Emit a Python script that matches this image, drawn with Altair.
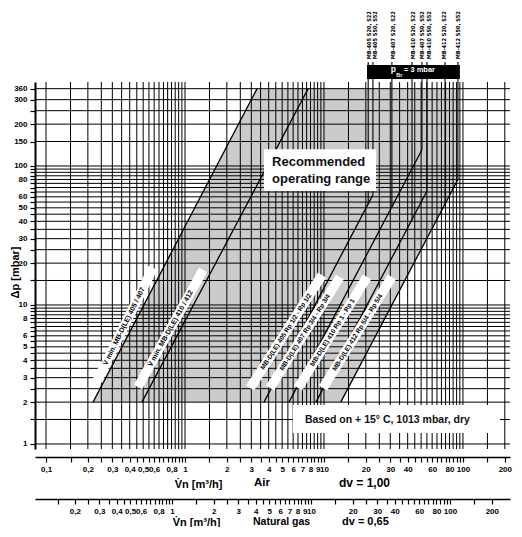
import json
import math
import altair as alt
import pandas as pd

# ---------------- scale extents ----------------
X_DOMAIN = [0.0833, 218.0]      # air flow m3/h
Y_DOMAIN = [0.92, 402.0]        # pressure drop mbar
DV_GAS = 0.65
W, H = 475, 367
FONT = "Liberation Sans"
NARROW = "Liberation Sans Narrow, DejaVu Sans Condensed, Liberation Sans"

# ---------------- grid / ticks ----------------
x_grid = [0.1, 0.15, 0.2, 0.25, 0.3, 0.35, 0.4, 0.45, 0.5, 0.55, 0.6, 0.65, 0.7, 0.75, 0.8, 0.85, 0.9, 0.95, 1,
          1.5, 2, 2.5, 3, 3.5, 4, 4.5, 5, 5.5, 6, 6.5, 7, 7.5, 8, 8.5, 9, 9.5, 10,
          15, 20, 25, 30, 35, 40, 45, 50, 55, 60, 65, 70, 75, 80, 85, 90, 95, 100, 150, 200]
y_grid = [1, 1.5, 2, 2.5, 3, 3.5, 4, 4.5, 5, 5.5, 6, 6.5, 7, 7.5, 8, 8.5, 9, 9.5, 10,
          15, 20, 25, 30, 35, 40, 45, 50, 55, 60, 65, 70, 75, 80, 85, 90, 95, 100,
          150, 200, 250, 300, 360]
air_labels = [0.1, 0.2, 0.3, 0.4, 0.5, 0.6, 0.8, 1, 2, 3, 4, 5, 6, 7, 8, 9, 10, 20, 30, 40, 60, 80, 100, 200]
gas_ticks = [0.15, 0.2, 0.25, 0.3, 0.35, 0.4, 0.45, 0.5, 0.55, 0.6, 0.65, 0.7, 0.75, 0.8, 0.85, 0.9, 0.95, 1,
             1.5, 2, 2.5, 3, 3.5, 4, 4.5, 5, 5.5, 6, 6.5, 7, 7.5, 8, 8.5, 9, 9.5, 10,
             15, 20, 25, 30, 35, 40, 45, 50, 55, 60, 65, 70, 75, 80, 85, 90, 95, 100, 150, 200]
gas_labels = [0.2, 0.3, 0.4, 0.5, 0.6, 0.8, 1, 2, 3, 4, 5, 6, 7, 8, 9, 10, 20, 30, 40, 60, 80, 100, 200]
y_labels = [1, 2, 3, 4, 5, 6, 8, 10, 20, 30, 40, 50, 60, 80, 100, 150, 200, 300, 360]

# ---------------- recommended operating range (gray) ----------------
gray_v = [0.218, 3.3, 13.2, 92]
gray_hi = [2, 360, 360, 360]
gray_lo = [2, 2, 2, 80]

# ---------------- characteristic lines ----------------
line_v1 = [0.218, 0.49, 3.7, 5.6, 8.75, 13.2]
line_p1 = [2, 2, 2, 2, 2, 2]
line_v2 = [3.3, 7.7, 22.5, 50.7, 55.1, 92]
line_p2 = [360, 360, 62, 131, 66, 80]

# ---------------- p_Br = 3 mbar limits (top) ----------------
s_names = ["MB-405 S20, S22", "MB-405 S50, S52", "MB-407 S20, S22", "MB-410 S20, S22",
           "MB-407 S50, S52", "MB-410 S50, S52", "MB-412 S20, S22", "MB-412 S50, S52"]
s_v = [20.8, 22.5, 30.8, 43, 50.7, 55.1, 74.3, 92]
s_text_v = [21.0, 23.4, 31.2, 43.4, 50.5, 57.3, 73.3, 92.5]
s_p_low = [53, 62, 51, 41, 131, 66, 53, 80]
s_p_top = 560
s_text_p = 585
bar_v = [20.4, 95]
bar_p = [422, 533]

# ---------------- label bands ----------------
band_text = ["V\u0307 min. MB-D(LE) 405 / 407", "V\u0307 min. MB-D(LE) 410 / 412",
             "MB-D(LE) 405 Rp 1/2 - Rp 1/2", "MB-D(LE) 407 Rp 3/4 - Rp 3/4",
             "MB-D(LE) 410 Rp 1 - Rp 1", "MB-D(LE) 412 Rp 5/4 - Rp 5/4"]
band_v1 = [0.225, 0.459, 2.94, 4.09, 6.5, 9.84]
band_p1 = [2.66, 2.57, 2.53, 2.53, 2.53, 2.53]
band_v2 = [0.589, 1.35, 9.67, 13.0, 20.4, 30.8]
band_p2 = [18.5, 17.9, 16.4, 15.9, 15.9, 15.9]
band_size = [7, 7, 6.5, 6.5, 6.5, 6.5]

# ---------------- boxes ----------------
box_v1 = [3.70, 5.98]
box_v2 = [23.7, 184.5]
box_p1 = [66, 1.2]
box_p2 = [132, 1.91]
note_text = ["Recommended", "operating range", "Based on  + 15\u00b0 C, 1013 mbar, dry"]
note_v = [4.23, 4.23, 7.29]
note_p = [107, 80.6, 1.49]
note_size = [13, 13, 10.5]

# ---------------- helpers ----------------
dx_dec = W / math.log10(X_DOMAIN[1] / X_DOMAIN[0])
dy_dec = H / math.log10(Y_DOMAIN[1] / Y_DOMAIN[0])

xs = alt.Scale(type="log", domain=X_DOMAIN, nice=False)
ys = alt.Scale(type="log", domain=Y_DOMAIN, nice=False)


def label_expr(vals):
    return "indexof(%s, datum.value) >= 0 ? replace(toString(datum.value), '.', ',') : ''" % json.dumps(vals)


axis_common = dict(labelFont=FONT, labelFontSize=8, labelFontWeight="bold", labelColor="black",
                   titleFont=FONT, titleFontSize=11, titleFontWeight="bold", titleColor="black",
                   domainColor="black", tickColor="black", labelOverlap=False, labelFlush=False,
                   grid=False)

gray = alt.Chart(pd.DataFrame({"v": gray_v, "hi": gray_hi, "lo": gray_lo})).mark_area(
    color="#cbcbcb", opacity=1).encode(
    x=alt.X("v:Q", scale=xs, axis=None),
    y=alt.Y("hi:Q", scale=ys, axis=None),
    y2="lo:Q")

vgrid = alt.Chart(pd.DataFrame({"v": x_grid})).mark_rule(color="black", strokeWidth=1).encode(
    x=alt.X("v:Q", scale=xs, axis=alt.Axis(
        values=x_grid, labelExpr=label_expr(air_labels), orient="bottom", offset=8,
        tickSize=5, tickWidth=1.2, domainWidth=1.6, labelPadding=3,
        title="V\u0307n [m\u00b3/h]", titleX=163, titleY=27, titleAlign="center",
        titleBaseline="middle", **axis_common)))

hgrid = alt.Chart(pd.DataFrame({"p": y_grid})).mark_rule(color="black", strokeWidth=1).encode(
    y=alt.Y("p:Q", scale=ys, axis=alt.Axis(
        values=y_grid, labelExpr="indexof(%s, datum.value) >= 0 ? toString(datum.value) : ''" % json.dumps(y_labels),
        orient="left", tickSize=5, tickWidth=1.2, domainWidth=2, labelPadding=3,
        title="\u0394p [mbar]", titleAngle=270, titleX=-20, titleY=190, titleAlign="center",
        titleBaseline="middle", **axis_common)))

lines = alt.Chart(pd.DataFrame({"v1": line_v1, "p1": line_p1, "v2": line_v2, "p2": line_p2})).mark_rule(
    color="black", strokeWidth=1.3).encode(
    x=alt.X("v1:Q", scale=xs, axis=None), y=alt.Y("p1:Q", scale=ys, axis=None), x2="v2:Q", y2="p2:Q")

verts = alt.Chart(pd.DataFrame({"v": s_v, "lo": s_p_low, "hi": [s_p_top] * len(s_v)})).mark_rule(
    color="black", strokeWidth=1.1).encode(
    x=alt.X("v:Q", scale=xs, axis=None), y=alt.Y("lo:Q", scale=ys, axis=None), y2="hi:Q")

bar = alt.Chart(pd.DataFrame({"v1": [bar_v[0]], "v2": [bar_v[1]], "p1": [bar_p[0]], "p2": [bar_p[1]]})).mark_rect(
    color="black").encode(
    x=alt.X("v1:Q", scale=xs, axis=None), x2="v2:Q", y=alt.Y("p1:Q", scale=ys, axis=None), y2="p2:Q")

s_labels = alt.Chart(pd.DataFrame({"v": s_text_v, "t": s_names, "p": [s_text_p] * len(s_v)})).mark_text(
    angle=270, align="left", baseline="middle", font=NARROW, fontSize=5.6, fontWeight="bold", color="black").encode(
    x=alt.X("v:Q", scale=xs, axis=None), y=alt.Y("p:Q", scale=ys, axis=None), text="t:N")

pbr_df = pd.DataFrame({"t": ["p", "Br", "= 3 mbar"], "v": [31.6, 34.9, 37.6], "p": [500, 455, 494],
                       "s": [8.5, 5.5, 7.5], "a": ["center", "center", "left"]})
pbr_c = alt.Chart(pbr_df[pbr_df.a == "center"]).mark_text(
    align="center", baseline="middle", font=FONT, fontWeight="bold", color="white").encode(
    x=alt.X("v:Q", scale=xs, axis=None), y=alt.Y("p:Q", scale=ys, axis=None), text="t:N",
    size=alt.Size("s:Q", scale=None))
pbr_l = alt.Chart(pbr_df[pbr_df.a == "left"]).mark_text(
    align="left", baseline="middle", font=FONT, fontWeight="bold", color="white").encode(
    x=alt.X("v:Q", scale=xs, axis=None), y=alt.Y("p:Q", scale=ys, axis=None), text="t:N",
    size=alt.Size("s:Q", scale=None))

band_df = pd.DataFrame({"v1": band_v1, "p1": band_p1, "v2": band_v2, "p2": band_p2, "t": band_text, "s": band_size})
band_df["vm"] = [math.sqrt(a * b) for a, b in zip(band_v1, band_v2)]
band_df["pm"] = [math.sqrt(a * b) for a, b in zip(band_p1, band_p2)]
band_df["ang"] = [360 - math.degrees(math.atan2(dy_dec * math.log10(b2 / b1), dx_dec * math.log10(a2 / a1)))
                  for a1, a2, b1, b2 in zip(band_v1, band_v2, band_p1, band_p2)]
bands = alt.Chart(band_df).mark_rule(color="white", strokeWidth=9.5, strokeCap="butt").encode(
    x=alt.X("v1:Q", scale=xs, axis=None), y=alt.Y("p1:Q", scale=ys, axis=None), x2="v2:Q", y2="p2:Q")
band_txt = alt.Chart(band_df).mark_text(
    align="center", baseline="middle", font=FONT, fontWeight="bold", color="black").encode(
    x=alt.X("vm:Q", scale=xs, axis=None), y=alt.Y("pm:Q", scale=ys, axis=None), text="t:N",
    angle=alt.Angle("ang:Q", scale=None), size=alt.Size("s:Q", scale=None))

boxes = alt.Chart(pd.DataFrame({"v1": box_v1, "v2": box_v2, "p1": box_p1, "p2": box_p2})).mark_rect(
    color="white").encode(
    x=alt.X("v1:Q", scale=xs, axis=None), x2="v2:Q", y=alt.Y("p1:Q", scale=ys, axis=None), y2="p2:Q")
notes = alt.Chart(pd.DataFrame({"t": note_text, "v": note_v, "p": note_p, "s": note_size})).mark_text(
    align="left", baseline="middle", font=FONT, fontWeight="bold", color="#111111").encode(
    x=alt.X("v:Q", scale=xs, axis=None), y=alt.Y("p:Q", scale=ys, axis=None), text="t:N",
    size=alt.Size("s:Q", scale=None))

# captions below the flow axes (pixel placement inside the chart frame)
cap_text = ["Air", "dv = 1,00", "Natural gas", "dv = 0,65"]
cap_x = [219, 304, 218, 307]
cap_y = [401, 401, 440, 440]
cap_size = [11.5, 12, 10.5, 11]
caps = [alt.Chart(pd.DataFrame({"t": [t]})).mark_text(
    align="left", baseline="middle", font=FONT, fontWeight="bold", fontSize=s, color="black").encode(
    x=alt.value(cx), y=alt.value(cy), text="t:N") for t, cx, cy, s in zip(cap_text, cap_x, cap_y, cap_size)]

k = math.sqrt(DV_GAS)
gas_layer = alt.Chart(pd.DataFrame({"g": gas_ticks})).mark_point(opacity=0).encode(
    x=alt.X("g:Q", scale=alt.Scale(type="log", domain=[X_DOMAIN[0] / k, X_DOMAIN[1] / k], nice=False),
            axis=alt.Axis(values=gas_ticks, labelExpr=label_expr(gas_labels), orient="bottom", offset=50,
                          tickSize=5, tickWidth=1.2, domainWidth=1.6, labelPadding=3,
                          title="V\u0307n [m\u00b3/h]", titleX=161, titleY=23, titleAlign="center",
                          titleBaseline="middle", **axis_common)))

chart = alt.layer(gray, vgrid, hgrid, lines, verts, bar, s_labels, pbr_c, pbr_l,
                  bands, band_txt, boxes, notes, *caps, gas_layer).resolve_scale(
    x="independent", y="independent").properties(
    width=W, height=H,
    autosize=alt.AutoSizeParams(type="none"),
    padding={"left": 27, "top": 74, "right": 4, "bottom": 78},
    background="white",
).configure_view(stroke=None)

chart.save("out.html", embed_options={"renderer": "svg", "actions": False})
